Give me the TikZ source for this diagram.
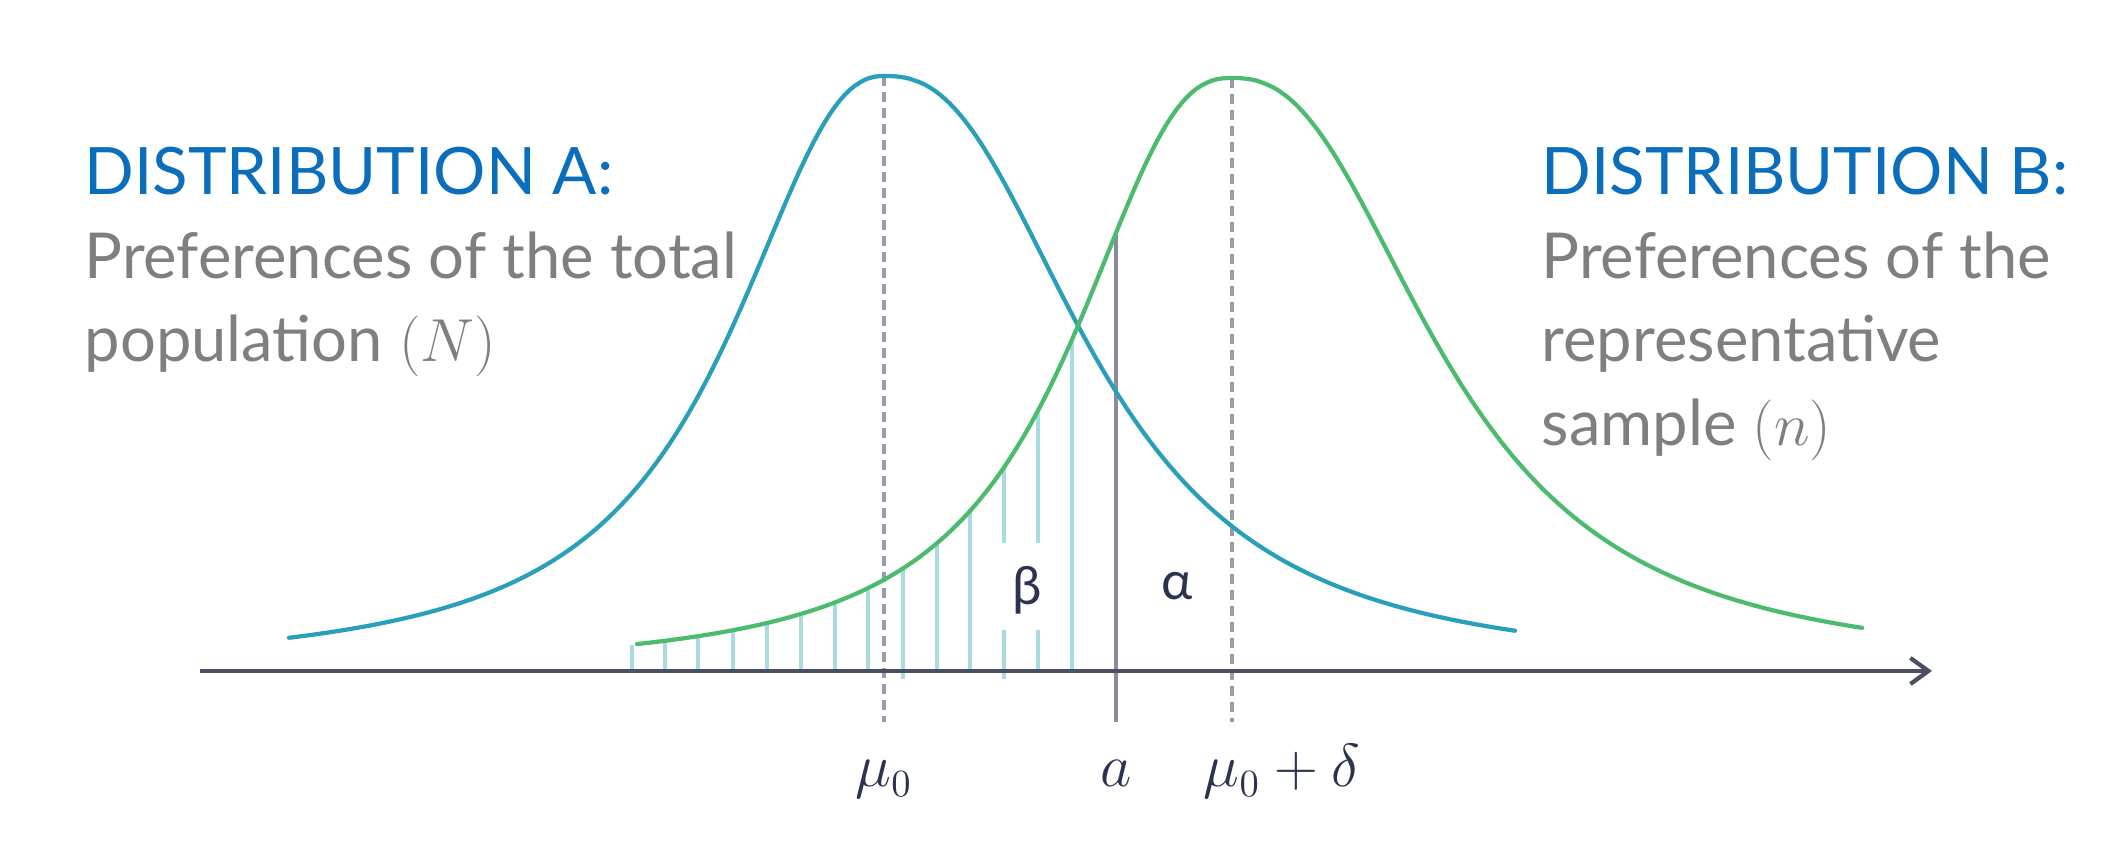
\documentclass[tikz,border=0pt]{standalone}
\usepackage{fontspec}
\setmainfont{Lato}
\usetikzlibrary{arrows.meta}
\definecolor{curveA}{HTML}{2A9FBA}
\definecolor{curveB}{HTML}{4DBB6D}
\definecolor{axisc}{HTML}{4B4F63}
\definecolor{dashc}{HTML}{9A9AAA}
\definecolor{hatchc}{HTML}{A9DBE3}
\definecolor{headc}{HTML}{0A6EBD}
\definecolor{subc}{HTML}{7F7F7F}
\definecolor{labc}{HTML}{2C3350}
\tikzset{
  curvelineA/.style={draw=curveA, line width=1.2pt, line cap=round},
  curvelineB/.style={draw=curveB, line width=1.2pt, line cap=round},
  axisline/.style={draw=axisc, line width=1.3pt, -{Straight Barb[length=0.18cm,width=0.26cm,line width=1.2pt]}},
  dashline/.style={draw=dashc, line width=0.9pt, dash pattern=on 0.1cm off 0.06cm},
  aline/.style={draw=dashc!90!black, line width=0.9pt},
  hatchline/.style={draw=hatchc, line width=0.9pt},
  headtext/.style={inner sep=0pt, anchor=base west, text=headc, font=\fontsize{18.6}{22}\selectfont},
  subtext/.style={inner sep=0pt, anchor=base west, text=subc, font=\fontsize{18}{22}\selectfont},
  mathlab/.style={inner sep=0pt, anchor=base, text=labc, font=\fontsize{16}{19}\selectfont},
  greeklab/.style={inner sep=0pt, anchor=base, text=labc, font=\fontsize{15}{18}\selectfont}
}
% curve heights (pixels above the axis)
\pgfmathdeclarefunction{distA}{1}{%
  \pgfmathparse{671 - 595/(1 + ((#1<884) ? pow(abs(884-#1)/174+0.0005,2.3) : pow(abs(#1-884)/221+0.0005,2.5)))}%
}
\pgfmathdeclarefunction{distB}{1}{%
  \pgfmathparse{671 - 593/(1 + ((#1<1232) ? pow(abs(1232-#1)/176+0.0005,2.5) : pow(abs(#1-1232)/223+0.0005,2.45)))}%
}
\begin{document}
\begin{tikzpicture}[x=0.01cm, y=-0.01cm]
\useasboundingbox (0,0) rectangle (2116,868);
\fill[white] (0,0) rectangle (2116,868);

% hatch lines (beta region)
\foreach \hx in {632, 665, 698, 733, 767, 801, 835, 868, 937, 970, 1072}{
  \pgfmathsetmacro\ht{distB(\hx)}
  \draw[hatchline] (\hx,671) -- (\hx,\ht);
}
\pgfmathsetmacro\htn{distB(903)}
\coordinate (h9b) at (903,679); \coordinate (h9t) at (903,\htn);
\draw[hatchline] (h9b) -- (h9t);
\pgfmathsetmacro\htt{distB(1004)}
\coordinate (h12b) at (1004,679); \coordinate (h12m) at (1004,630);
\coordinate (h12n) at (1004,543); \coordinate (h12t) at (1004,\htt);
\draw[hatchline] (h12b) -- (h12m) (h12n) -- (h12t);
\pgfmathsetmacro\hth{distB(1038)}
\coordinate (h13b) at (1038,671); \coordinate (h13m) at (1038,630);
\coordinate (h13n) at (1038,543); \coordinate (h13t) at (1038,\hth);
\draw[hatchline] (h13b) -- (h13m) (h13n) -- (h13t);

% vertical reference lines
\pgfmathsetmacro\atopy{distB(1116)}
\coordinate (mu0top) at (884,76);  \coordinate (mu0bot) at (884,722);
\coordinate (mudtop) at (1232,78); \coordinate (mudbot) at (1232,722);
\coordinate (atop) at (1116,\atopy);  \coordinate (abot) at (1116,722);
\draw[dashline] (mu0top) -- (mu0bot);
\draw[dashline] (mudtop) -- (mudbot);
\draw[aline] (atop) -- (abot);

% axis
\coordinate (axL) at (200,671);
\coordinate (axR) at (1932,671);
\draw[axisline] (axL) -- (axR);

% distribution A
\draw[curvelineA] plot[domain=289:1515, samples=246, variable=\t] (\t, {distA(\t)});

% distribution B
\draw[curvelineB] plot[domain=637:1862, samples=246, variable=\t] (\t, {distB(\t)});

% labels on the axis
\node[mathlab] (lmu0) at (884,787) {$\mu_0$};
\node[mathlab] (la) at (1116,787) {$a$};
\node[mathlab] (lmud) at (1282,787) {$\mu_0+\delta$};
\node[greeklab] (lbeta) at (1027,605) {β};
\node[greeklab] (lalpha) at (1177,600) {α};

% text blocks
\node[headtext] (hA) at (84,195) {DISTRIBUTION A:};
\node[subtext] (pA1) at (84,279) {Preferences of the total};
\node[subtext] (pA2) at (84,362) {population $(N)$};

\node[headtext] (hB) at (1541,195) {DISTRIBUTION B:};
\node[subtext] (pB1) at (1541,279) {Preferences of the};
\node[subtext] (pB2) at (1541,362) {representative};
\node[subtext] (pB3) at (1541,446) {sample $(n)$};
\end{tikzpicture}
\end{document}
